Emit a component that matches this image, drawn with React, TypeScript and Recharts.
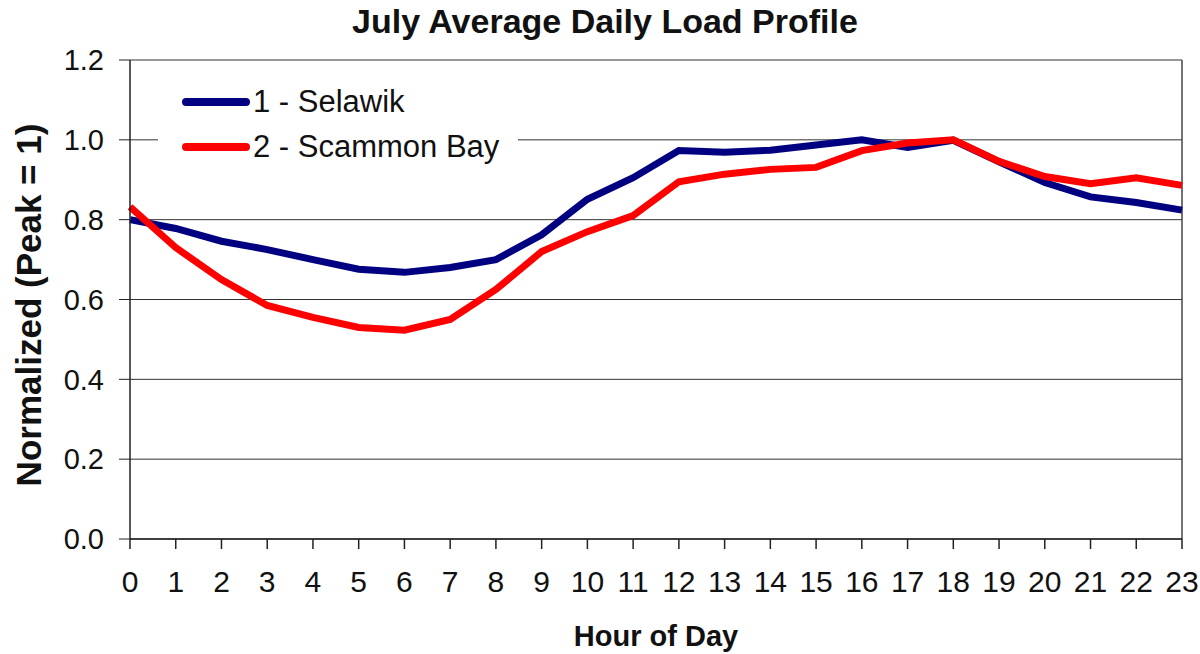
import React from "react";
import { LineChart, Line, XAxis, YAxis, CartesianGrid, ReferenceLine } from "recharts";

const hours = [0,1,2,3,4,5,6,7,8,9,10,11,12,13,14,15,16,17,18,19,20,21,22,23];
const selawik = [0.80,0.778,0.746,0.725,0.700,0.676,0.668,0.680,0.700,0.762,0.851,0.905,0.973,0.969,0.974,0.987,1.0,0.981,0.999,0.945,0.893,0.857,0.843,0.824];
const scammonBay = [0.832,0.730,0.650,0.585,0.555,0.530,0.523,0.550,0.625,0.720,0.770,0.810,0.895,0.914,0.926,0.931,0.973,0.992,1.0,0.946,0.908,0.890,0.905,0.886];
const yTicks = [0, 0.2, 0.4, 0.6, 0.8, 1.0, 1.2];
const seriesNames = ["1 - Selawik", "2 - Scammon Bay"];
const seriesColors = ["#000080", "#ff0000"];

const data = hours.map((h, i) => ({ hour: h, s1: selawik[i], s2: scammonBay[i] }));

const FONT = "Arial, 'Liberation Sans', sans-serif";

export default function App() {
  return (
    <div style={{ position: "absolute", left: 0, top: 0, width: 1200, height: 654, background: "#fff", overflow: "hidden" }}>
      <LineChart width={1200} height={654} data={data} margin={{ top: 60, right: 18, bottom: 0, left: 0 }} style={{ position: "absolute", left: 0, top: 0 }}>
        <CartesianGrid horizontal={true} vertical={false} stroke="#333" strokeWidth={1} />
        <XAxis dataKey="hour" type="number" domain={[0, 23]} ticks={hours} interval={0} height={115}
          axisLine={{ stroke: "#222", strokeWidth: 1.5 }} tickLine={{ stroke: "#222", strokeWidth: 1.5 }} tickSize={10} tickMargin={22}
          tick={{ fill: "#111", fontSize: 30, fontFamily: FONT }} />
        <YAxis type="number" domain={[0, 1.2]} ticks={yTicks} width={130} interval={0}
          tickFormatter={(v: number) => v.toFixed(1)}
          axisLine={{ stroke: "#222", strokeWidth: 1.5 }} tickLine={{ stroke: "#222", strokeWidth: 1 }} tickSize={11} tickMargin={15}
          tick={{ fill: "#111", fontSize: 29, fontFamily: FONT }} />
        <ReferenceLine x={23} stroke="#444" strokeWidth={1.5} />
        <Line type="linear" dataKey="s1" name={seriesNames[0]} stroke={seriesColors[0]} strokeWidth={7} dot={false} isAnimationActive={false} />
        <Line type="linear" dataKey="s2" name={seriesNames[1]} stroke={seriesColors[1]} strokeWidth={7} dot={false} isAnimationActive={false} />
      </LineChart>
      <div style={{ position: "absolute", left: 0, top: 2, width: 1210, textAlign: "center", fontFamily: FONT, fontWeight: "bold", fontSize: 34, color: "#111" }}>
        July Average Daily Load Profile
      </div>
      <div style={{ position: "absolute", left: 0, top: 620, width: 1312, textAlign: "center", fontFamily: FONT, fontWeight: "bold", fontSize: 29, color: "#111" }}>
        Hour of Day
      </div>
      <div style={{ position: "absolute", left: 29, top: 305, width: 0, height: 0 }}>
        <div style={{ position: "absolute", left: 0, top: 0, transform: "translate(-50%, -50%) rotate(-90deg)", whiteSpace: "nowrap", fontFamily: FONT, fontWeight: "bold", fontSize: 35, color: "#111" }}>
          Normalized (Peak = 1)
        </div>
      </div>
      <div style={{ position: "absolute", left: 158, top: 78, width: 360, height: 90, background: "#fff", fontFamily: FONT }}>
        {seriesNames.map((n, i) => (
          <div key={n} style={{ position: "absolute", left: 24, top: 2 + i * 45, height: 44, display: "flex", alignItems: "center" }}>
            <div style={{ width: 68, height: 8, borderRadius: 4, background: seriesColors[i] }} />
            <span style={{ fontSize: 31, color: "#111", marginLeft: 3, lineHeight: "44px" }}>{n}</span>
          </div>
        ))}
      </div>
    </div>
  );
}
